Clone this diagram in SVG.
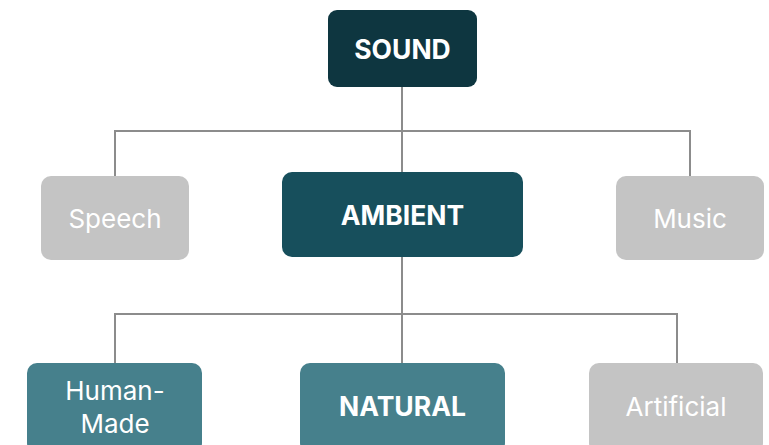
<svg xmlns="http://www.w3.org/2000/svg" width="769" height="445" viewBox="0 0 769 445">
<style>
.lbl{font-family:Inter,"Liberation Sans",sans-serif;fill:#ffffff;text-anchor:middle;dominant-baseline:central}
.b{font-weight:700;font-size:26.5px}
.r{font-weight:400;font-size:26px}
.gray{fill:#c4c4c4}
.conn{fill:none;stroke:#8c8c8c;stroke-width:2}
</style>
<rect width="769" height="445" fill="#ffffff"/>
<g id="connectors" class="conn">
<path d="M402 87V172"/>
<path d="M115 176V131H690V176"/>
<path d="M402 257V363"/>
<path d="M115 363V314H677V363"/>
</g>
<g id="sound"><rect x="328" y="10" width="149" height="77" rx="9" fill="#0e3640"/><text class="lbl b" x="402.5" y="48.5">SOUND</text></g>
<g id="speech"><rect class="gray" x="41" y="176" width="148" height="84" rx="10"/><text class="lbl r" x="115" y="218">Speech</text></g>
<g id="ambient"><rect x="282" y="172" width="241" height="85" rx="10" fill="#174f5c"/><text class="lbl b" x="402.5" y="214.5">AMBIENT</text></g>
<g id="music"><rect class="gray" x="616" y="176" width="148" height="84" rx="10"/><text class="lbl r" x="690" y="218">Music</text></g>
<g id="human-made"><rect x="27" y="363" width="175" height="90" rx="10" fill="#46808c"/><text class="lbl r" x="115" y="390">Human-</text><text class="lbl r" x="115" y="423">Made</text></g>
<g id="natural"><rect x="300" y="363" width="205" height="90" rx="10" fill="#46808c"/><text class="lbl b" x="402.5" y="406">NATURAL</text></g>
<g id="artificial"><rect class="gray" x="589" y="363" width="174" height="90" rx="10"/><text class="lbl r" x="676" y="406">Artificial</text></g>
</svg>
